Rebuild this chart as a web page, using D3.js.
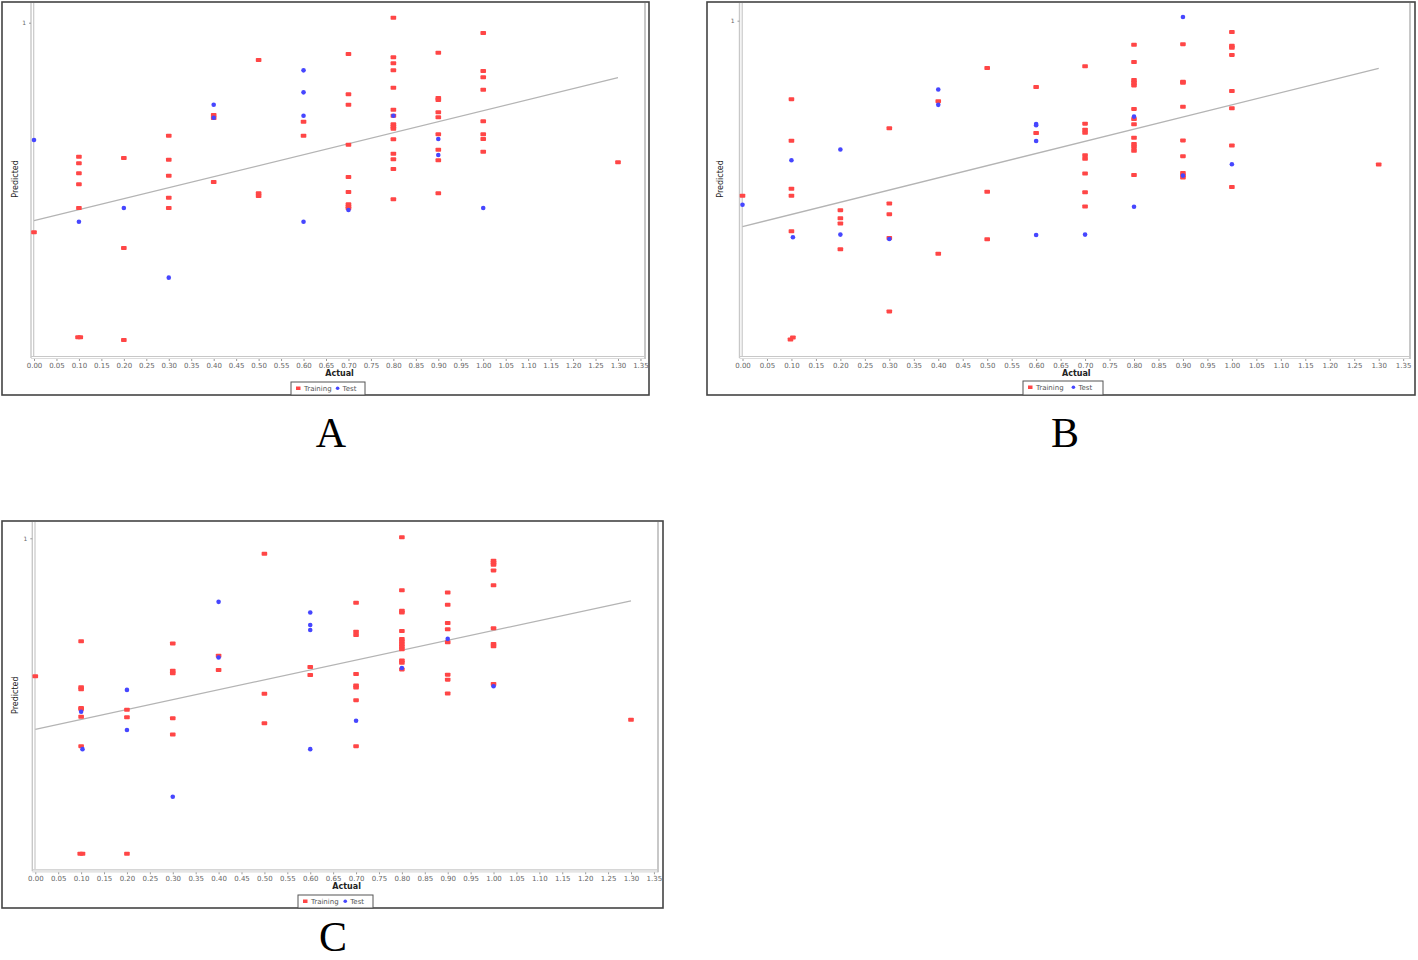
<!DOCTYPE html>
<html><head><meta charset="utf-8">
<script src="https://cdn.jsdelivr.net/npm/d3@7"></script>
<style>body{margin:0;background:#fff}svg{display:block}</style>
</head><body>
<svg id="c" width="1418" height="960"></svg>
<script>
// ---------- DATA ----------
const xTicks = d3.range(0, 28).map(i => +(i * 0.05).toFixed(2));
const yTicks = [1];
const seriesNames = ["Training", "Test"];
const panelLabels = ["A", "B", "C"];

// Panel A  [actual, predicted]
const trainA = [
  [0.0,0.371],
  [0.1,0.598],[0.1,0.578],[0.1,0.548],[0.1,0.515],[0.1,0.444],[0.098,0.056],[0.103,0.056],
  [0.2,0.594],[0.2,0.324],[0.2,0.048],
  [0.3,0.661],[0.3,0.589],[0.3,0.541],[0.3,0.475],[0.3,0.444],
  [0.4,0.723],[0.4,0.714],[0.4,0.522],
  [0.5,0.888],[0.5,0.488],[0.5,0.480],
  [0.6,0.703],[0.6,0.661],
  [0.7,0.906],[0.7,0.785],[0.7,0.754],[0.7,0.634],[0.7,0.537],[0.7,0.492],[0.7,0.455],[0.7,0.448],[0.7,0.443],
  [0.8,1.015],[0.8,0.896],[0.8,0.878],[0.8,0.857],[0.8,0.805],[0.8,0.739],[0.8,0.721],[0.8,0.695],[0.8,0.688],[0.8,0.682],[0.8,0.650],[0.8,0.607],[0.8,0.590],[0.8,0.561],[0.8,0.470],
  [0.9,0.910],[0.9,0.774],[0.9,0.768],[0.9,0.731],[0.9,0.716],[0.9,0.665],[0.9,0.619],[0.9,0.587],[0.9,0.488],
  [1.0,0.969],[1.0,0.855],[1.0,0.836],[1.0,0.799],[1.0,0.704],[1.0,0.665],[1.0,0.651],[1.0,0.613],
  [1.3,0.581]
];
const testA = [
  [0.0,0.648],[0.1,0.403],[0.2,0.444],[0.3,0.235],[0.4,0.754],[0.4,0.715],
  [0.6,0.857],[0.6,0.791],[0.6,0.721],[0.6,0.403],[0.7,0.438],[0.8,0.721],
  [0.9,0.651],[0.9,0.603],[1.0,0.444]
];
const regA = [[0,0.406],[1.3,0.835]];

// Panel B
const trainB = [
  [0.0,0.478],
  [0.1,0.766],[0.1,0.642],[0.1,0.499],[0.1,0.478],[0.1,0.372],[0.098,0.049],[0.103,0.055],
  [0.2,0.435],[0.2,0.411],[0.2,0.395],[0.2,0.318],
  [0.3,0.679],[0.3,0.455],[0.3,0.423],[0.3,0.352],[0.3,0.133],
  [0.4,0.760],[0.4,0.305],
  [0.5,0.859],[0.5,0.490],[0.5,0.348],
  [0.6,0.802],[0.6,0.665],
  [0.7,0.864],[0.7,0.693],[0.7,0.675],[0.7,0.666],[0.7,0.599],[0.7,0.588],[0.7,0.544],[0.7,0.488],[0.7,0.446],
  [0.8,0.928],[0.8,0.877],[0.8,0.823],[0.8,0.815],[0.8,0.807],[0.8,0.737],[0.8,0.707],[0.8,0.691],[0.8,0.651],[0.8,0.632],[0.8,0.623],[0.8,0.612],[0.8,0.540],
  [0.9,0.930],[0.9,0.818],[0.9,0.815],[0.9,0.743],[0.9,0.643],[0.9,0.596],[0.9,0.546],[0.9,0.538],[0.9,0.532],
  [1.0,0.966],[1.0,0.925],[1.0,0.919],[1.0,0.898],[1.0,0.790],[1.0,0.739],[1.0,0.628],[1.0,0.504],
  [1.3,0.571]
];
const testB = [
  [0.0,0.451],[0.1,0.584],[0.103,0.354],[0.2,0.616],[0.2,0.362],[0.3,0.349],
  [0.4,0.795],[0.4,0.749],[0.6,0.692],[0.6,0.688],[0.6,0.641],[0.6,0.361],
  [0.7,0.362],[0.8,0.714],[0.8,0.445],[0.9,1.011],[0.9,0.538],[1.0,0.572]
];
const regB = [[0,0.386],[1.3,0.858]];

// Panel C
const trainC = [
  [0.0,0.583],
  [0.1,0.689],[0.1,0.550],[0.1,0.544],[0.1,0.487],[0.1,0.484],[0.1,0.461],[0.1,0.372],[0.098,0.047],[0.103,0.047],
  [0.2,0.482],[0.2,0.459],[0.2,0.047],
  [0.3,0.682],[0.3,0.600],[0.3,0.592],[0.3,0.456],[0.3,0.407],
  [0.4,0.645],[0.4,0.602],
  [0.5,0.953],[0.5,0.530],[0.5,0.441],
  [0.6,0.611],[0.6,0.587],
  [0.7,0.805],[0.7,0.718],[0.7,0.708],[0.7,0.590],[0.7,0.555],[0.7,0.549],[0.7,0.511],[0.7,0.372],
  [0.8,1.003],[0.8,0.843],[0.8,0.781],[0.8,0.776],[0.8,0.720],[0.8,0.696],[0.8,0.688],[0.8,0.680],[0.8,0.672],[0.8,0.665],[0.8,0.631],[0.8,0.624],[0.8,0.604],
  [0.9,0.836],[0.9,0.799],[0.9,0.744],[0.9,0.725],[0.9,0.686],[0.9,0.588],[0.9,0.573],[0.9,0.531],
  [1.0,0.932],[1.0,0.926],[1.0,0.920],[1.0,0.903],[1.0,0.858],[1.0,0.728],[1.0,0.681],[1.0,0.674],[1.0,0.560],
  [1.3,0.452]
];
const testC = [
  [0.1,0.476],[0.103,0.363],[0.2,0.542],[0.2,0.421],[0.3,0.219],[0.4,0.808],[0.4,0.640],
  [0.6,0.776],[0.6,0.738],[0.6,0.723],[0.6,0.363],[0.7,0.449],[0.8,0.608],[0.9,0.696],[1.0,0.553]
];
const regC = [[0,0.423],[1.3,0.811]];

// ---------- LAYOUT ----------
const panels = [
  {train: trainA, test: testA, reg: regA, label: panelLabels[0],
   frame: {x: 2, y: 2, w: 647, h: 393}, plotRight: 645,
   xr: [34, 618], yr: [356, 22.7], labelPos: [331, 447],
   legend: {x: 291, y: 382, w: 74}},
  {train: trainB, test: testB, reg: regB, label: panelLabels[1],
   frame: {x: 707, y: 2, w: 708, h: 393}, plotRight: 1410,
   xr: [742.5, 1378.7], yr: [356, 20.7], labelPos: [1065, 447],
   legend: {x: 1023, y: 381, w: 80}},
  {train: trainC, test: testC, reg: regC, label: panelLabels[2],
   frame: {x: 2, y: 521, w: 661, h: 387}, plotRight: 658,
   xr: [35.3, 631], yr: [869.3, 538.3], labelPos: [333, 951],
   legend: {x: 298, y: 895, w: 75}}
];

const RED = "#ff4646", BLUE = "#4646ff";
const svg = d3.select("#c");

panels.forEach(p => {
  const g = svg.append("g");
  const x = d3.scaleLinear().domain([0, 1.3]).range(p.xr);
  const y = d3.scaleLinear().domain([0, 1]).range(p.yr);
  const f = p.frame;
  const left = x(0), bottom = y(0);

  // frame
  g.append("rect").attr("x", f.x).attr("y", f.y).attr("width", f.w).attr("height", f.h)
    .attr("fill", "#fff").attr("stroke", "#444").attr("stroke-width", 1.6);

  // plot borders (light grey double lines)
  const lc = "#c8c8c8";
  g.append("line").attr("x1", left - 3).attr("x2", left - 3).attr("y1", f.y + 1).attr("y2", bottom + 2)
    .attr("stroke", lc).attr("stroke-width", 1.4);
  g.append("line").attr("x1", left - 0.3).attr("x2", left - 0.3).attr("y1", f.y + 1).attr("y2", bottom)
    .attr("stroke", lc).attr("stroke-width", 1.2);
  g.append("line").attr("x1", left - 3).attr("x2", p.plotRight).attr("y1", bottom + 0.5).attr("y2", bottom + 0.5)
    .attr("stroke", lc).attr("stroke-width", 1.2);
  g.append("line").attr("x1", left - 3).attr("x2", p.plotRight).attr("y1", bottom + 2.5).attr("y2", bottom + 2.5)
    .attr("stroke", "#dcdcdc").attr("stroke-width", 1.2);
  g.append("line").attr("x1", p.plotRight).attr("x2", p.plotRight).attr("y1", f.y + 1).attr("y2", bottom + 3)
    .attr("stroke", lc).attr("stroke-width", 2);

  // x axis
  const xs = d3.scaleLinear().domain([0, 1.35]).range([p.xr[0], x(1.35)]);
  const xa = g.append("g").attr("transform", `translate(0,${bottom + 3})`)
    .call(d3.axisBottom(xs).tickValues(xTicks).tickFormat(d3.format(".2f")).tickSize(2).tickPadding(2));
  xa.select(".domain").remove();
  xa.selectAll("line").attr("stroke", "#999");
  xa.selectAll("text").attr("fill", "#666").style("font-family", "DejaVu Sans").style("font-size", "7px");

  // y axis (only "1")
  const ya = g.append("g").attr("transform", `translate(${left - 3},0)`)
    .call(d3.axisLeft(y).tickValues(yTicks).tickFormat(d3.format("d")).tickSize(2).tickPadding(3));
  ya.select(".domain").remove();
  ya.selectAll("line").attr("stroke", "#999");
  ya.selectAll("text").attr("fill", "#666").style("font-family", "DejaVu Sans").style("font-size", "6px");

  // axis titles
  g.append("text").attr("x", (left + p.plotRight) / 2).attr("y", bottom + 20)
    .attr("text-anchor", "middle").style("font-family", "DejaVu Sans").style("font-weight", "bold")
    .style("font-size", "8px").attr("fill", "#222").text("Actual");
  g.append("text").attr("transform", `translate(${f.x + 16},${(f.y + bottom) / 2}) rotate(-90)`)
    .attr("text-anchor", "middle").style("font-family", "DejaVu Sans").style("font-size", "8px")
    .attr("fill", "#222").text("Predicted");

  // regression line
  g.append("line").attr("x1", x(p.reg[0][0])).attr("y1", y(p.reg[0][1]))
    .attr("x2", x(p.reg[1][0])).attr("y2", y(p.reg[1][1]))
    .attr("stroke", "#b4b4b4").attr("stroke-width", 1.3);

  // training squares
  g.append("g").selectAll("rect").data(p.train).join("rect")
    .attr("x", d => x(d[0]) - 2.8).attr("y", d => y(d[1]) - 2).attr("width", 5.6).attr("height", 4)
    .attr("rx", 0.8).attr("fill", RED);
  // test dots
  g.append("g").selectAll("circle").data(p.test).join("circle")
    .attr("cx", d => x(d[0])).attr("cy", d => y(d[1])).attr("r", 2.3).attr("fill", BLUE);

  // legend
  const L = p.legend;
  const lg = g.append("g");
  lg.append("rect").attr("x", L.x).attr("y", L.y).attr("width", L.w).attr("height", f.y + f.h - L.y)
    .attr("fill", "#fff").attr("stroke", "#555").attr("stroke-width", 1);
  lg.append("rect").attr("x", L.x + 5).attr("y", L.y + 4.5).attr("width", 4.5).attr("height", 3.5).attr("fill", RED);
  lg.append("text").attr("x", L.x + 13).attr("y", L.y + 8.8).style("font-family", "DejaVu Sans")
    .style("font-size", "7px").attr("fill", "#555").text(seriesNames[0]);
  lg.append("circle").attr("cx", L.x + L.w * 0.63).attr("cy", L.y + 6.3).attr("r", 1.8).attr("fill", BLUE);
  lg.append("text").attr("x", L.x + L.w * 0.63 + 5).attr("y", L.y + 8.8).style("font-family", "DejaVu Sans")
    .style("font-size", "7px").attr("fill", "#555").text(seriesNames[1]);

  // panel label
  svg.append("text").attr("x", p.labelPos[0]).attr("y", p.labelPos[1]).attr("text-anchor", "middle")
    .style("font-family", "Liberation Serif").style("font-size", "42px").attr("fill", "#000").text(p.label);
});
</script>
</body></html>
